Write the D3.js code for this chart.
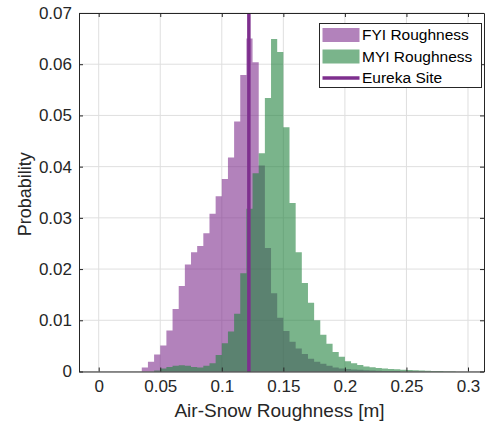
<!DOCTYPE html>
<html><head><meta charset="utf-8">
<script src="https://cdn.jsdelivr.net/npm/d3@7"></script>
<style>body{margin:0;background:#fff}text{font-family:"Liberation Sans",Arial,sans-serif}</style>
</head><body>
<svg id="c" width="486" height="425"></svg>
<script>
// Bin edges: start of each 0.005-wide bin
const binWidth = 0.005;
const fyiStart = 0.035;
const fyiValues = [0.0008,0.0019,0.0033,0.0051,0.0080,0.0122,0.0167,0.0209,0.0233,0.0245,
  0.0270,0.0308,0.0342,0.0376,0.0418,0.0488,0.0579,0.0650,0.0604,0.0402,
  0.0241,0.0153,0.0105,0.0079,0.0058,0.0045,0.0034,0.0025,0.0019,0.0015,
  0.0011,0.0008,0.0006,0.0005,0.0004,0.00032,0.00026,0.0002,0.00016,0.00012,0.0001,0.00008];
const myiStart = 0.045;
const myiValues = [0.0002,0.0006,0.0009,0.0011,0.0012,0.0011,0.0009,0.0008,0.0011,0.0016,
  0.0032,0.0055,0.0078,0.0113,0.0192,0.0318,0.0387,0.0426,0.0534,0.0649,
  0.0624,0.0477,0.0329,0.0233,0.0173,0.0134,0.0100,0.0072,0.0054,0.0038,
  0.0029,0.0020,0.0016,0.00125,0.0010,0.00085,0.0007,0.00058,0.0005,0.00042,
  0.00036,0.0003,0.00025,0.0002,0.00016,0.00012,0.0001,0.00007,0.00005];
const eurekaSite = 0.122;
const xTicks = [0,0.05,0.1,0.15,0.2,0.25,0.3];
const xTickLabels = ["0","0.05","0.1","0.15","0.2","0.25","0.3"];
const yTicks = [0,0.01,0.02,0.03,0.04,0.05,0.06,0.07];
const yTickLabels = ["0","0.01","0.02","0.03","0.04","0.05","0.06","0.07"];
const legendLabels = ["FYI Roughness","MYI Roughness","Eureka Site"];

const colFYI = "rgb(126,47,142)", colMYI = "rgb(34,130,62)", axisCol = "#262626";
const L=79, R=484, T=13, B=371.5;
const svg = d3.select("#c");
const x = d3.scaleLinear().domain([-0.016,0.313]).range([L,R]);
const y = d3.scaleLinear().domain([0,0.07]).range([B,T]);

// grid
const g = svg.append("g");
g.selectAll(".gx").data(xTicks).join("line").attr("x1",d=>x(d)).attr("x2",d=>x(d)).attr("y1",T).attr("y2",B)
 .attr("stroke","#dfdfdf").attr("stroke-width",1);
g.selectAll(".gy").data(yTicks).join("line").attr("y1",d=>y(d)).attr("y2",d=>y(d)).attr("x1",L).attr("x2",R)
 .attr("stroke","#dfdfdf").attr("stroke-width",1);

function steps(start, vals){
  const pts = vals.map((v,i)=>({e:start+i*binWidth, v}));
  pts.push({e:start+vals.length*binWidth, v:vals[vals.length-1]});
  return pts;
}
const area = d3.area().curve(d3.curveStepAfter).x(d=>x(d.e)).y0(y(0)).y1(d=>y(d.v));
svg.append("path").datum(steps(fyiStart,fyiValues)).attr("d",area)
  .attr("fill",colFYI).attr("fill-opacity",0.6);
svg.append("path").datum(steps(myiStart,myiValues)).attr("d",area)
  .attr("fill",colMYI).attr("fill-opacity",0.6);

svg.append("line").attr("x1",x(eurekaSite)).attr("x2",x(eurekaSite)).attr("y1",T).attr("y2",B)
  .attr("stroke",colFYI).attr("stroke-width",3.5);

// axes
const fs = "17px";
const xa = svg.append("g").attr("transform",`translate(0,${B})`)
  .call(d3.axisBottom(x).tickValues(xTicks).tickFormat((d,i)=>xTickLabels[i]).tickSizeInner(-4).tickSizeOuter(0).tickPadding(8));
const xt = svg.append("g").attr("transform",`translate(0,${T})`)
  .call(d3.axisTop(x).tickValues(xTicks).tickFormat("").tickSizeInner(-4).tickSizeOuter(0));
const ya = svg.append("g").attr("transform",`translate(${L},0)`)
  .call(d3.axisLeft(y).tickValues(yTicks).tickFormat((d,i)=>yTickLabels[i]).tickSizeInner(-4).tickSizeOuter(0).tickPadding(7));
const yr = svg.append("g").attr("transform",`translate(${R},0)`)
  .call(d3.axisRight(y).tickValues(yTicks).tickFormat("").tickSizeInner(-4).tickSizeOuter(0));
[xa,xt,ya,yr].forEach(a=>{
  a.selectAll("path").attr("stroke",axisCol);
  a.selectAll("line").attr("stroke",axisCol);
  a.selectAll("text").attr("fill",axisCol).style("font-size",fs).style("font-family","'Liberation Sans',Arial,sans-serif");
});

svg.append("text").attr("x",(L+R)/2 - 2).attr("y",417).attr("text-anchor","middle").attr("fill",axisCol)
  .style("font-size","19px").text("Air-Snow Roughness [m]");
svg.append("text").attr("transform",`translate(31,${(T+B)/2 + 2}) rotate(-90)`).attr("text-anchor","middle").attr("fill",axisCol)
  .style("font-size","18px").text("Probability");

// legend
const lg = svg.append("g");
lg.append("rect").attr("x",319.5).attr("y",23.5).attr("width",162).attr("height",64).attr("fill","#fff").attr("stroke",axisCol).attr("stroke-width",1);
const rows=[35,56.5,78];
lg.append("rect").attr("x",322.5).attr("y",rows[0]-7).attr("width",37).attr("height",14).attr("fill",colFYI).attr("fill-opacity",0.6);
lg.append("rect").attr("x",322.5).attr("y",rows[1]-7).attr("width",37).attr("height",14).attr("fill",colMYI).attr("fill-opacity",0.6);
lg.append("line").attr("x1",322.5).attr("x2",359.5).attr("y1",rows[2]).attr("y2",rows[2]).attr("stroke",colFYI).attr("stroke-width",3.5);
lg.selectAll("text.l").data(legendLabels).join("text").attr("x",362).attr("y",(d,i)=>rows[i]).attr("dy","0.35em")
  .attr("fill","#000").style("font-size","15.5px").text(d=>d);
</script>
</body></html>
